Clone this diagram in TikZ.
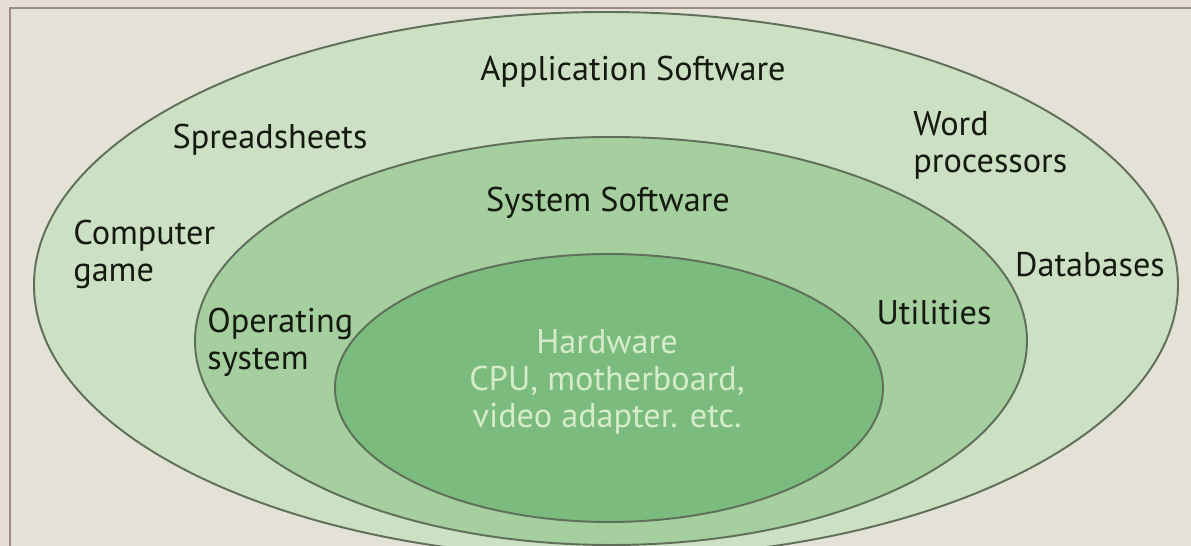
\documentclass[tikz,border=0pt]{standalone}
\usepackage{fontspec}
\setmainfont{PT Sans}
\definecolor{paper}{HTML}{E7DDD4}
\definecolor{sheet}{HTML}{E4E2D7}
\definecolor{frameline}{HTML}{9C8A84}
\definecolor{appfill}{HTML}{CCE0C3}
\definecolor{sysfill}{HTML}{A5CF9E}
\definecolor{hwfill}{HTML}{7BBC7E}
\definecolor{rim}{HTML}{5F6F59}
\definecolor{ink}{HTML}{141A10}
\definecolor{hwtext}{HTML}{D6EBCA}

\begin{document}
\begin{tikzpicture}[x=0.02cm, y=-0.02cm,
    ring/.style={draw=rim, line width=1.1pt},
    lbl/.style={text=ink, font=\fontsize{19.5}{21}\selectfont, inner sep=0pt},
    hw/.style={lbl, text=hwtext, align=center}]
    \useasboundingbox (0,0) rectangle (1191,546);
    \clip (0,0) rectangle (1191,546);
    \fill[paper] (0,0) rectangle (1191,546);
    \draw[draw=frameline, fill=sheet, line width=1.2pt] (10,8) rectangle (1220,580);
    % rings, outside in
    \filldraw[ring, fill=appfill] (606,285) ellipse [x radius=572, y radius=273];
    \filldraw[ring, fill=sysfill] (611,341) ellipse [x radius=416, y radius=204];
    \filldraw[ring, fill=hwfill] (609,388) ellipse [x radius=274, y radius=134];
    % application layer
    \node[lbl] (app) at (633,72) {Application Software};
    \node[lbl] (sheets) at (270,140) {Spreadsheets};
    \node[lbl, align=left, anchor=west] (words) at (913,145) {Word\\processors};
    \node[lbl, align=left, anchor=west] (game) at (73,254) {Computer\\game};
    \node[lbl] (db) at (1090,265) {Databases};
    % system layer
    \node[lbl] (sys) at (608,203) {System Software};
    \node[lbl, align=left, anchor=west] (os) at (207,342) {Operating\\system};
    \node[lbl] (util) at (934,313) {Utilities};
    % hardware core
    \node[hw] (hw) at (607,382) {Hardware\\CPU, motherboard,\\video adapter. etc.};
\end{tikzpicture}
\end{document}
